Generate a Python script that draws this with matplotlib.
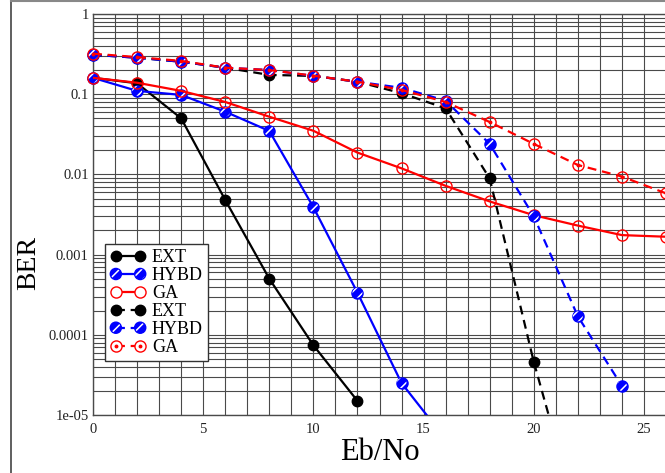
import matplotlib
matplotlib.use('Agg')
import matplotlib.pyplot as plt
import numpy as np
from matplotlib.lines import Line2D
from matplotlib.legend_handler import HandlerTuple

# ---- data ----
ext_solid_x = [0, 2, 4, 6, 8, 10, 12]
ext_solid = [0.16, 0.137, 0.050, 0.0048, 5.0e-4, 7.4e-5, 1.5e-5]

hybd_solid_x = [0, 2, 4, 6, 8, 10, 12, 14, 16]
hybd_solid = [0.16, 0.11, 0.098, 0.0605, 0.0348, 0.0039, 3.35e-4, 2.5e-5, 5e-6]

ga_solid_x = [0, 2, 4, 6, 8, 10, 12, 14, 16, 18, 20, 22, 24, 26]
ga_solid = [0.16, 0.139, 0.11, 0.080, 0.0524, 0.035, 0.0187, 0.0119, 0.0072,
            0.0046, 0.0031, 0.0023, 0.00175, 0.00167]

ext_dash_x = [0, 2, 4, 6, 8, 10, 12, 14, 16, 18, 20, 22]
ext_dash = [0.31, 0.285, 0.254, 0.214, 0.174, 0.169, 0.143, 0.103, 0.0667,
            0.0089, 4.6e-5, 5e-7]

hybd_dash_x = [0, 2, 4, 6, 8, 10, 12, 14, 16, 18, 20, 22, 24]
hybd_dash = [0.31, 0.285, 0.254, 0.214, 0.20, 0.169, 0.143, 0.12, 0.083,
             0.024, 0.003, 1.7e-4, 2.3e-5]

ga_dash_x = [0, 2, 4, 6, 8, 10, 12, 14, 16, 18, 20, 22, 24, 26]
ga_dash = [0.32, 0.29, 0.26, 0.214, 0.20, 0.17, 0.143, 0.113, 0.08, 0.045,
           0.024, 0.0131, 0.0094, 0.0058]

labels = ['EXT', 'HYBD', 'GA', 'EXT', 'HYBD', 'GA']
x_ticks = [0, 5, 10, 15, 20, 25]
y_ticks = [1e-5, 1e-4, 1e-3, 1e-2, 1e-1, 1]
y_ticklabels = ['1e-05', '0.0001', '0.001', '0.01', '0.1', '1']

# ---- style ----
plt.rcParams['font.family'] = ['Liberation Serif', 'DejaVu Serif']
plt.rcParams['hatch.linewidth'] = 1.1

W, H = 665, 473
fig = plt.figure(figsize=(W / 100, H / 100), dpi=100)
ax_l, ax_r, ax_t, ax_b = 93, 666, 14, 415
ax = fig.add_axes([ax_l / W, 1 - ax_b / H, (ax_r - ax_l) / W, (ax_b - ax_t) / H])

ax.set_yscale('log')
ax.set_xlim(0, 26)
ax.set_ylim(1e-5, 1)

grid_c = '#4a4a4a'
ax.set_xticks(np.arange(0, 27, 1), minor=True)
ax.set_xticks(x_ticks)
ax.set_xticklabels([str(t) for t in x_ticks])
ax.set_yticks(y_ticks)
ax.set_yticklabels(y_ticklabels)
ax.grid(True, which='both', axis='both', color=grid_c, lw=0.8)
ax.set_axisbelow(True)
ax.tick_params(axis='both', which='both', length=0, labelsize=10.5, colors='#222222')
ax.tick_params(axis='x', pad=6)
ax.tick_params(axis='y', pad=3)
for s in ax.spines.values():
    s.set_color(grid_c)
    s.set_linewidth(1.0)

LW = 1.6
MS = 7.5
DASH = (4, 2.6)

def draw_line(x, y, color, dashed, z):
    kw = dict(color=color, lw=LW, zorder=z)
    if dashed:
        kw['dashes'] = DASH
    ln, = ax.plot(x, y, **kw)
    return ln

def visible(x, y):
    xs = [a for a, b in zip(x, y) if b >= 1e-5]
    ys = [b for b in y if b >= 1e-5]
    return xs, ys

handles = []
z = 3
series = [
    (ext_solid_x, ext_solid, 'black', False, 'ext'),
    (hybd_solid_x, hybd_solid, 'blue', False, 'hybd'),
    (ga_solid_x, ga_solid, 'red', False, 'ga'),
    (ext_dash_x, ext_dash, 'black', True, 'ext'),
    (hybd_dash_x, hybd_dash, 'blue', True, 'hybd'),
    (ga_dash_x, ga_dash, 'red', True, 'ga_dot'),
]
for (x, y, c, dashed, kind) in series:
    ln = draw_line(x, y, c, dashed, z)
    xs, ys = visible(x, y)
    lkw = dict(color=c, lw=LW)
    if dashed:
        lkw['dashes'] = DASH
    if kind == 'ext':
        ax.plot(xs, ys, ls='none', marker='o', ms=MS, mfc=c, mec=c,
                clip_on=False, zorder=z + 0.5)
        h = Line2D([], [], marker='o', ms=MS, mfc=c, mec=c, **lkw)
    elif kind == 'hybd':
        s = (MS + 0.5) ** 2
        sc1 = ax.scatter(xs, ys, s=s, marker='o', facecolor='blue',
                         edgecolor='blue', linewidths=1.0,
                         clip_on=False, zorder=z + 0.5)
        sc2 = ax.scatter(xs, ys, s=s * 0.8, marker='o', facecolor='none',
                         edgecolor='white', hatch='///', linewidths=0,
                         clip_on=False, zorder=z + 0.6)
        h = (Line2D([], [], **lkw), sc1, sc2)
    else:
        ax.plot(xs, ys, ls='none', marker='o', ms=MS + 0.5, mfc='none', mec=c,
                mew=1.0, clip_on=False, zorder=z + 0.5)
        h1 = Line2D([], [], marker='o', ms=MS + 0.5, mfc='white', mec=c, mew=1.0, **lkw)
        if kind == 'ga_dot':
            ax.plot(xs, ys, ls='none', marker='o', ms=1.8, mfc=c, mec=c,
                    clip_on=False, zorder=z + 0.6)
            h = (h1, Line2D([], [], ls='none', marker='o', ms=1.8, mfc=c, mec=c))
        else:
            h = h1
    handles.append(h)
    z += 1

leg = ax.legend(handles, labels, loc='upper left',
                bbox_to_anchor=((105 - ax_l) / (ax_r - ax_l), (ax_b - 244) / (ax_b - ax_t)),
                borderaxespad=0, fontsize=13, labelspacing=0.05, borderpad=0.3,
                handlelength=1.95, handletextpad=0.35, numpoints=2,
                scatterpoints=2, scatteryoffsets=[0.5], fancybox=False,
                framealpha=1, edgecolor='#333333',
                handler_map={tuple: HandlerTuple(ndivide=1, pad=0)})
leg.get_frame().set_linewidth(1.0)
leg.set_zorder(20)

ax.set_xlabel('Eb/No', fontsize=22, va='baseline')
ax.xaxis.set_label_coords(380 / W, 1 - 460 / H, transform=fig.transFigure)
ax.set_ylabel('BER', fontsize=20, va='center', ha='center')
ax.yaxis.set_label_coords(28.5 / W, 1 - 263 / H, transform=fig.transFigure)

# figure frame (cropped screenshot border)
fig.add_artist(Line2D([11 / W, 11 / W], [0, 1 - 1.5 / H], transform=fig.transFigure,
                      color='#444444', lw=1.2))
fig.add_artist(Line2D([11 / W, 1], [1 - 1.5 / H, 1 - 1.5 / H], transform=fig.transFigure,
                      color='#888888', lw=1.5))

fig.savefig('out.png', dpi=100)
